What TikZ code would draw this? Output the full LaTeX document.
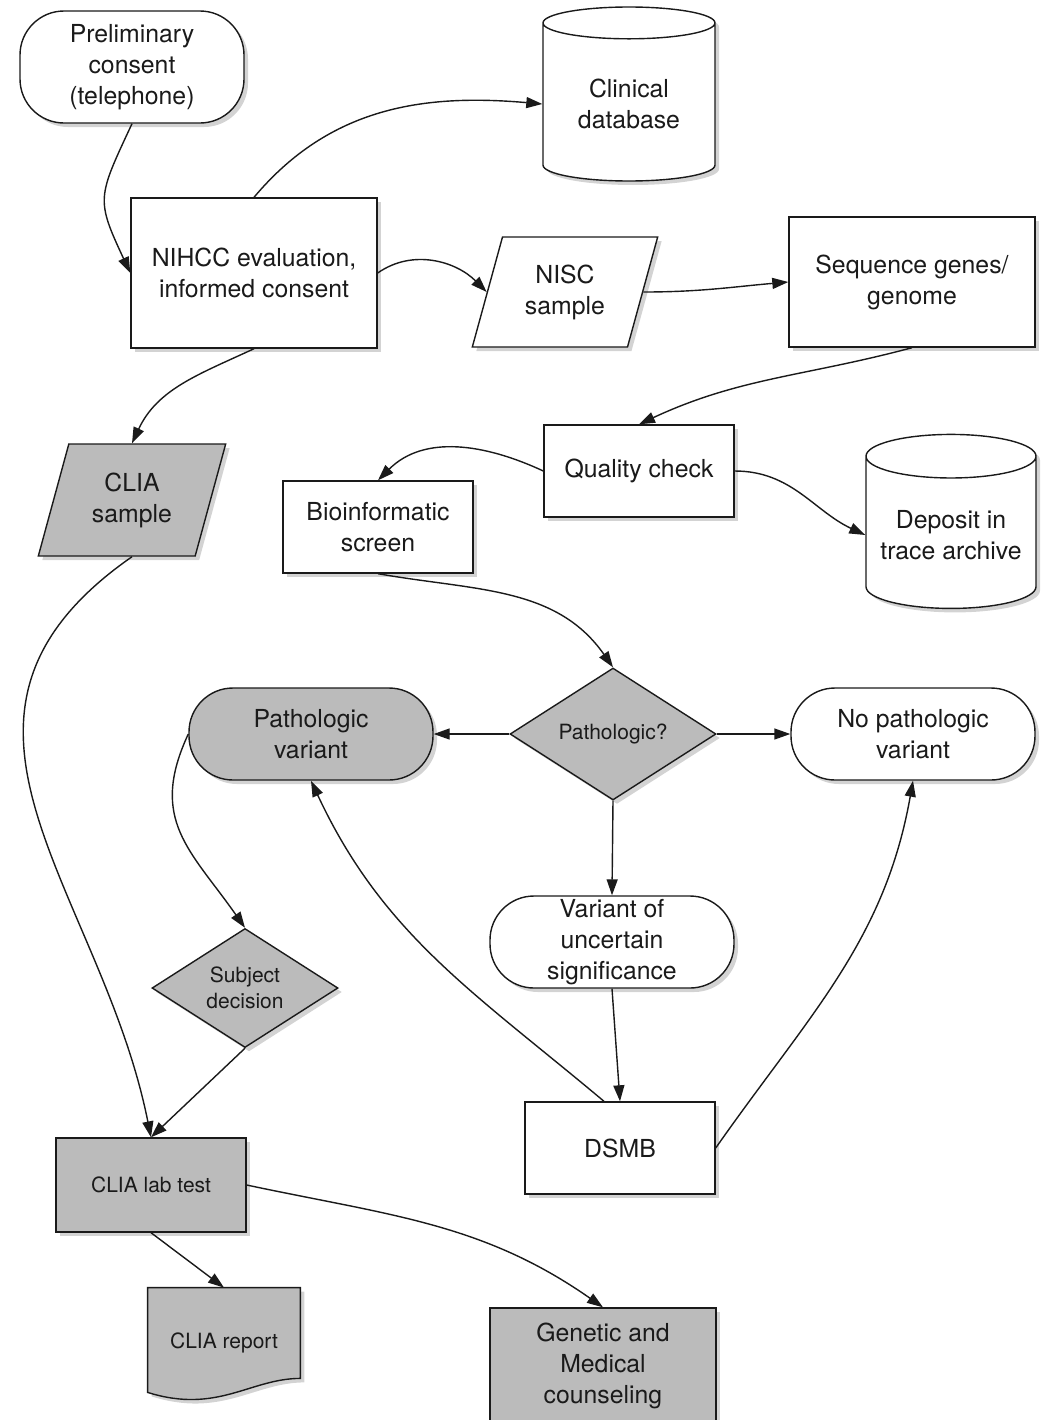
\documentclass[tikz,border=0pt]{standalone}
\usepackage{fontspec}
\setmainfont{TeX Gyre Heros}
\usepackage{tikz}
\usetikzlibrary{shapes,arrows.meta,positioning,shadows,calc,backgrounds}
\definecolor{shade}{HTML}{BBBBBB}
\definecolor{ink}{HTML}{1A1A1A}

\begin{document}
\begin{tikzpicture}[
    x=0.5pt, y=-0.5pt,
    base/.style={draw=ink, line width=0.7pt, fill=white, text=ink, align=center, inner sep=1pt, font=\fontsize{12.4}{15.5}\selectfont, drop shadow={shadow xshift=2pt, shadow yshift=-2pt, opacity=0.35}},
    proc/.style={base, rectangle},
    term/.style={base, rectangle, rounded corners=22pt},
    store/.style={base, cylinder, shape border rotate=90, aspect=0.3},
    io/.style={base, trapezium, trapezium left angle=71, trapezium right angle=109, trapezium stretches=true},
    decide/.style={base, diamond, inner sep=0pt, font=\fontsize{10.5}{13}\selectfont},
    grey/.style={fill=shade},
    small/.style={font=\fontsize{10.5}{13}\selectfont},
    arrow/.style={-{Triangle[length=8pt,width=5.5pt]}, line width=0.7pt, draw=ink}
]
    \useasboundingbox (0,0) rectangle (1048,1420);
    \clip (0,0) rectangle (1048,1420);

    \node[term, minimum width=112pt, minimum height=56pt] (prelim) at (132,67) {Preliminary\\consent\\(telephone)};
    \node[store, minimum width=86pt, minimum height=87pt] (clinical) at (629,104) {Clinical\\database};
    \node[proc, minimum width=123pt, minimum height=75pt] (nihcc) at (254,273) {NIHCC evaluation,\\informed consent};
    \node[io, minimum width=93pt, minimum height=55pt] (nisc) at (565,292) {NISC\\sample};
    \node[proc, minimum width=123pt, minimum height=65pt] (seq) at (912,282) {Sequence genes/\\genome};
    \node[io, grey, minimum width=94pt, minimum height=56pt] (cliasample) at (132,500) {CLIA\\sample};
    \node[proc, minimum width=95pt, minimum height=46pt] (quality) at (639,471) {Quality check};
    \node[proc, minimum width=95pt, minimum height=46pt] (bioinf) at (378,527) {Bioinformatic\\screen};
    \node[store, minimum width=85pt, minimum height=87pt] (deposit) at (951,535) {Deposit in\\trace archive};
    \node[decide, grey, minimum width=103pt, minimum height=66pt] (pathq) at (613,734) {Pathologic?};
    \node[term, grey, minimum width=122pt, minimum height=46pt] (pathvar) at (311,734) {Pathologic\\variant};
    \node[term, minimum width=122pt, minimum height=46pt] (nopath) at (913,734) {No pathologic\\variant};
    \node[term, minimum width=122pt, minimum height=46pt] (vus) at (612,942) {Variant of\\uncertain\\significance};
    \node[decide, grey, minimum width=93pt, minimum height=56pt] (subj) at (245,988) {Subject\\decision};
    \node[proc, minimum width=95pt, minimum height=46pt] (dsmb) at (620,1148) {DSMB};
    \node[proc, grey, small, minimum width=95pt, minimum height=47pt] (clialab) at (151,1185) {CLIA lab test};
    \node[small, text=ink, minimum width=76pt, minimum height=55pt] (report) at (224,1343) {CLIA report};
    \node[proc, grey, minimum width=113pt, minimum height=58pt] (counsel) at (603,1366) {Genetic and\\Medical\\counseling};

    \begin{scope}[on background layer]
        \draw[draw=ink, line width=0.7pt, fill=shade, drop shadow={shadow xshift=2pt, shadow yshift=-2pt, opacity=0.35}]
            (report.north west) -- (report.north east) -- ([yshift=10pt]report.south east)
            .. controls ([xshift=-25pt,yshift=10pt]report.south east) and ([xshift=35pt,yshift=-8pt]report.south west) .. ([yshift=3pt]report.south west) -- cycle;
    \end{scope}

    \draw[arrow] (prelim.south) to[out=-115, in=115, looseness=1.4] (nihcc.west);
    \draw[arrow] (nihcc.north) to[out=50, in=175] (clinical.west);
    \draw[arrow] (nihcc.east) to[out=35, in=135] (nisc.west);
    \draw[arrow] (nisc.east) to[out=0, in=185] (seq.west);
    \draw[arrow] (seq.south) to[out=195, in=25] (quality.north);
    \draw[arrow] (quality.west) to[out=155, in=45] (bioinf.north);
    \draw[arrow] (quality.east) to[out=0, in=155] (deposit.west);
    \draw[arrow] (bioinf.south) to[out=-10, in=125] (pathq.north);
    \draw[arrow] (pathq.west) -- (pathvar.east);
    \draw[arrow] (pathq.east) -- (nopath.west);
    \draw[arrow] (pathq.south) -- (vus.north);
    \draw[arrow] (nihcc.south) to[out=-155, in=65] (cliasample.north);
    \draw[arrow] (cliasample.south) .. controls +(-230,160) and +(-50,-250) .. (clialab.north);
    \draw[arrow] (pathvar.west) to[out=-115, in=125, looseness=1.2] (subj.north);
    \draw[arrow] (subj.south) -- (clialab.north);
    \draw[arrow] (vus.south) -- (dsmb.north);
    \draw[arrow] ([xshift=-8pt]dsmb.north) to[out=140, in=-65] (pathvar.south);
    \draw[arrow] (dsmb.east) to[out=55, in=-100] (nopath.south);
    \draw[arrow] (clialab.south) -- (report.north);
    \draw[arrow] (clialab.east) to[out=-12, in=145] (counsel.north);
\end{tikzpicture}
\end{document}
